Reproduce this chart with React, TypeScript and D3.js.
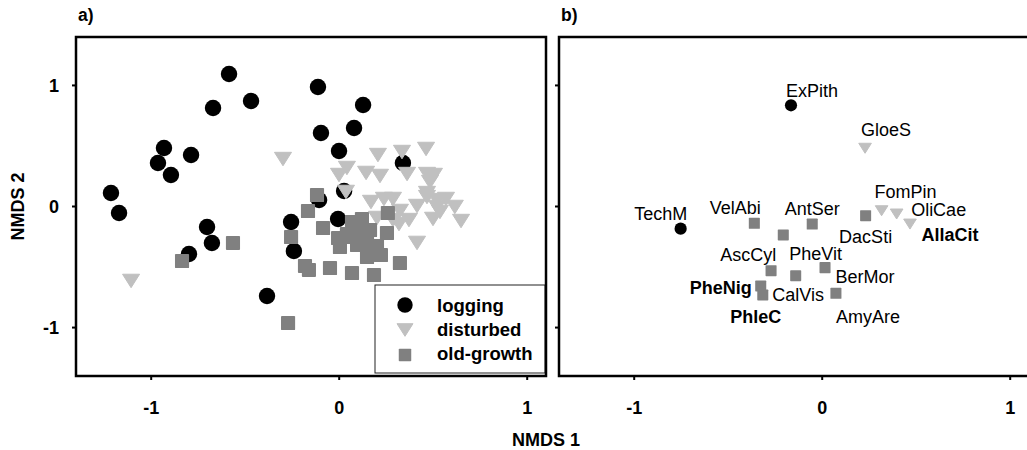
import React from "react";
import * as d3 from "d3";

// ---------- Data ----------
// Panel a: site scores (NMDS1, NMDS2)
const loggingX = [-1.214, -1.171, -0.964, -0.932, -0.895, -0.788, -0.671, -0.586, -0.469, -0.113, -0.097, -0.001, 0.079, 0.127, 0.339, 0.026, -0.107, -0.256, -0.006, -0.703, -0.677, -0.241, -0.384, -0.799];
const loggingY = [0.112, -0.054, 0.359, 0.483, 0.26, 0.425, 0.814, 1.094, 0.871, 0.987, 0.607, 0.458, 0.648, 0.838, 0.359, 0.128, 0.054, -0.128, -0.103, -0.169, -0.301, -0.368, -0.739, -0.392];

const disturbedX = [-0.299, -1.107, 0.206, 0.334, 0.462, 0.041, -0.001, 0.143, 0.217, 0.361, 0.467, 0.504, 0.483, 0.036, 0.169, 0.238, 0.286, 0.414, 0.467, 0.568, 0.52, 0.615, 0.536, 0.648, 0.323, 0.371, 0.201, 0.286, 0.318, 0.414, 0.499, 0.467, 0.52];
const disturbedY = [0.392, -0.615, 0.425, 0.45, 0.475, 0.318, 0.26, 0.277, 0.252, 0.268, 0.268, 0.26, 0.202, 0.12, 0.037, 0.062, 0.062, 0.004, 0.078, 0.062, -0.004, -0.004, -0.045, -0.12, -0.037, -0.112, -0.095, -0.112, -0.145, -0.301, -0.103, 0.111, 0.053];

const oldGrowthX = [-0.118, -0.166, -0.086, -0.256, -0.565, -0.836, 0.259, 0.068, 0.121, -0.006, 0.041, 0.073, 0.126, 0.164, 0.254, 0.004, 0.095, 0.201, 0.148, 0.222, 0.323, -0.182, -0.161, -0.049, 0.068, 0.185, -0.272, 0.1, 0.148, 0.073];
const oldGrowthY = [0.095, -0.037, -0.178, -0.252, -0.301, -0.45, -0.054, -0.128, -0.103, -0.26, -0.227, -0.252, -0.219, -0.194, -0.219, -0.335, -0.318, -0.326, -0.417, -0.401, -0.467, -0.491, -0.524, -0.508, -0.549, -0.566, -0.962, -0.277, -0.301, -0.153];

// Panel b: species scores
const speciesNames = ["ExPith", "TechM", "GloeS", "FomPin", "OliCae", "AllaCit", "VelAbi", "AntSer", "DacSti", "AscCyl", "PheVit", "BerMor", "CalVis", "AmyAre", "PheNig", "PhleC"];
const speciesGroup = ["logging", "logging", "disturbed", "disturbed", "disturbed", "disturbed", "old-growth", "old-growth", "old-growth", "old-growth", "old-growth", "old-growth", "old-growth", "old-growth", "old-growth", "old-growth"];
const speciesX = [-0.166, -0.753, 0.228, 0.316, 0.396, 0.467, -0.361, -0.053, 0.231, -0.207, -0.141, 0.015, -0.272, 0.073, -0.327, -0.316];
const speciesY = [0.836, -0.183, 0.481, -0.035, -0.062, -0.145, -0.139, -0.145, -0.076, -0.235, -0.572, -0.505, -0.53, -0.717, -0.657, -0.731];
const speciesBold = [false, false, false, false, false, true, false, false, false, false, false, false, false, false, true, true];
// label offsets (px) from the point to the label centre
const labelDx = [21, -20, 21, 24, 42, 40, -19, 0, 0, -35, 20, 40, 27, 32, -40, -7];
const labelDy = [-15, -15, -19, -19, -5, 10, -16, -16, 21, 20, -22, 9, 24, 23, 1, 21];

const groups = ["logging", "disturbed", "old-growth"];
const xTicks = [-1, 0, 1];
const yTicks = [-1, 0, 1];

// ---------- Styles ----------
const FONT = "'Liberation Sans', Arial, Helvetica, sans-serif";
const COL_LOG = "#000000";
const COL_DIST = "#c0c0c0";
const COL_OLD = "#808080";

function Marker({ group, cx, cy, s }: { group: string; cx: number; cy: number; s: number }) {
  if (group === "logging") return <circle cx={cx} cy={cy} r={s * 0.53} fill={COL_LOG} />;
  if (group === "disturbed") {
    const w = s * 1.1, h = s * 0.87;
    return (
      <path
        d={`M${cx - w / 2},${cy - h / 2}L${cx + w / 2},${cy - h / 2}L${cx},${cy + h / 2}Z`}
        fill={COL_DIST}
        stroke={COL_DIST}
        strokeLinejoin="round"
        strokeWidth={1}
      />
    );
  }
  return <rect x={cx - s * 0.48} y={cy - s * 0.48} width={s * 0.96} height={s * 0.96} fill={COL_OLD} rx={s * 0.06} />;
}

export default function App() {
  const W = 1027, H = 450;
  const top = 37, bottom = 376;
  const aLeft = 76, aRight = 546;
  const bLeft = 559, bRight = 1029;
  const xDom: [number, number] = [-1.4, 1.1];
  const yDom: [number, number] = [-1.4, 1.4];

  const xa = d3.scaleLinear().domain(xDom).range([aLeft, aRight]);
  const xb = d3.scaleLinear().domain(xDom).range([bLeft, bRight]);
  const y = d3.scaleLinear().domain(yDom).range([bottom, top]);

  const S = 15.5; // panel a marker size
  const Sb = 11.5; // panel b marker size

  const frameW = 2.5;

  const legX = 375, legY = 285, legW = 170, legH = 88;

  return (
    <svg width={W} height={H} style={{ position: "absolute", left: 0, top: 0, background: "#fff" }} fontFamily={FONT}>
      <rect x={0} y={0} width={W} height={H} fill="#fff" />
      {/* panel labels */}
      <text x={78} y={21} fontSize={17.5} fontWeight="bold">a)</text>
      <text x={561} y={21} fontSize={17.5} fontWeight="bold">b)</text>

      {/* Panel a points */}
      <g>
        {loggingX.map((v, i) => (
          <Marker key={"l" + i} group="logging" cx={xa(v)} cy={y(loggingY[i])} s={S} />
        ))}
        {disturbedX.map((v, i) => (
          <Marker key={"d" + i} group="disturbed" cx={xa(v)} cy={y(disturbedY[i])} s={S} />
        ))}
        {oldGrowthX.map((v, i) => (
          <Marker key={"o" + i} group="old-growth" cx={xa(v)} cy={y(oldGrowthY[i])} s={S - 0.8} />
        ))}
      </g>

      {/* legend */}
      <g>
        <rect x={legX} y={legY} width={legW} height={legH} fill="#fff" stroke="#222" strokeWidth={1} />
        {groups.map((g, i) => (
          <g key={g}>
            <Marker group={g} cx={legX + 30} cy={legY + 20 + i * 25} s={g === "old-growth" ? 13 : 14.5} />
            <text x={legX + 62} y={legY + 27 + i * 24} fontSize={18.5} fontWeight="bold">{g}</text>
          </g>
        ))}
      </g>

      {/* Panel b points */}
      <g>
        {speciesNames.map((n, i) => (
          <Marker key={"s" + i} group={speciesGroup[i]} cx={xb(speciesX[i])} cy={y(speciesY[i])} s={Sb} />
        ))}
        {speciesNames.map((n, i) => (
          <text
            key={"t" + i}
            x={xb(speciesX[i]) + labelDx[i]}
            y={y(speciesY[i]) + labelDy[i] + 6.5}
            textAnchor="middle"
            fontSize={18}
            fontWeight={speciesBold[i] ? "bold" : "normal"}
            fill="#000"
          >
            {n}
          </text>
        ))}
      </g>

      {/* frames */}
      <rect x={aLeft} y={top} width={aRight - aLeft} height={bottom - top} fill="none" stroke="#000" strokeWidth={frameW} />
      <rect x={bLeft} y={top} width={bRight - bLeft} height={bottom - top} fill="none" stroke="#000" strokeWidth={frameW} />

      {/* ticks */}
      {[{ x: xa, l: aLeft }, { x: xb, l: bLeft }].map((p, k) => (
        <g key={"ax" + k}>
          {xTicks.map((t) => (
            <g key={"xt" + t}>
              <line x1={p.x(t)} x2={p.x(t)} y1={bottom} y2={bottom + 4} stroke="#000" strokeWidth={2} />
              <text x={p.x(t)} y={414} textAnchor="middle" fontSize={18} fontWeight="bold">{t === -1 ? "-1" : String(t)}</text>
            </g>
          ))}
          {yTicks.map((t) => (
            <line key={"yt" + t} x1={p.l - 4} x2={p.l} y1={y(t)} y2={y(t)} stroke="#000" strokeWidth={2} />
          ))}
        </g>
      ))}
      {yTicks.map((t) => (
        <text key={"yl" + t} x={59} y={y(t) + 6.5} textAnchor="end" fontSize={18} fontWeight="bold">{t === -1 ? "-1" : String(t)}</text>
      ))}

      {/* axis titles */}
      <text x={546} y={446} textAnchor="middle" fontSize={18} fontWeight="bold">NMDS 1</text>
      <text transform={`translate(24,${(top + bottom) / 2}) rotate(-90)`} textAnchor="middle" fontSize={18} fontWeight="bold">NMDS 2</text>
    </svg>
  );
}
